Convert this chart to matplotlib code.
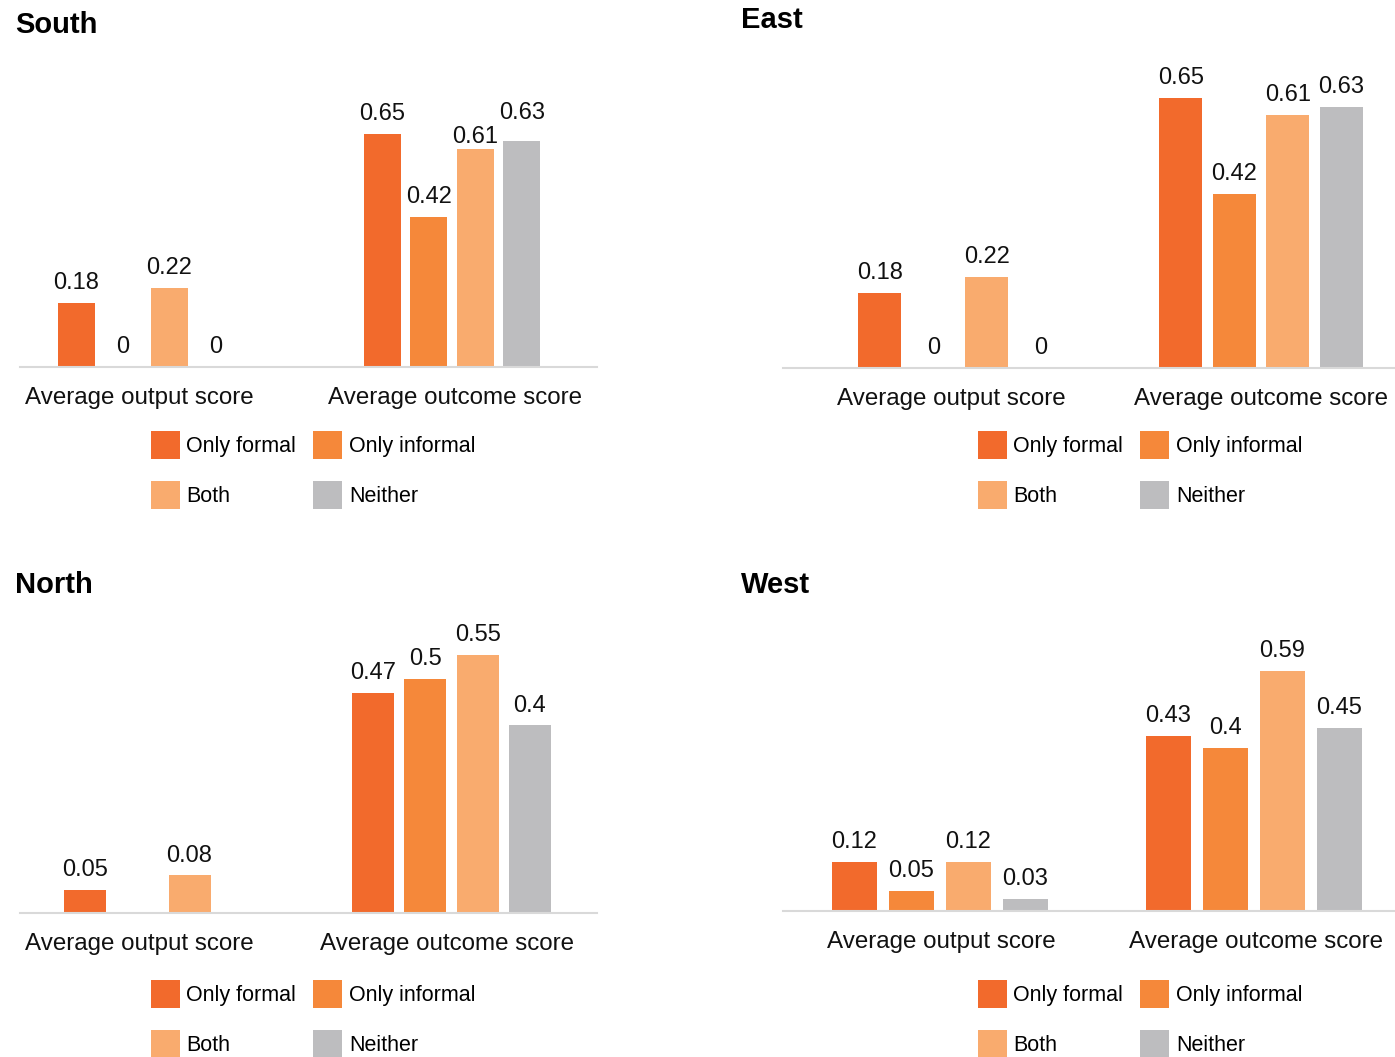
import matplotlib
matplotlib.use('Agg')
import matplotlib.pyplot as plt
from matplotlib.patches import Patch

plt.rcParams['font.family'] = ['Liberation Sans', 'DejaVu Sans']

series = ['Only formal', 'Only informal', 'Both', 'Neither']
colors = ['#F26A2C', '#F5883A', '#F9AB6E', '#BDBDBF']
groups = ['Average output score', 'Average outcome score']

south_output = [0.18, 0, 0.22, 0]
south_outcome = [0.65, 0.42, 0.61, 0.63]
east_output = [0.18, 0, 0.22, 0]
east_outcome = [0.65, 0.42, 0.61, 0.63]
north_output = [0.05, None, 0.08, None]   # no value reported
north_outcome = [0.47, 0.5, 0.55, 0.4]
west_output = [0.12, 0.05, 0.12, 0.03]
west_outcome = [0.43, 0.4, 0.59, 0.45]

W, H = 1395, 1057
fig = plt.figure(figsize=(W / 100, H / 100), dpi=100)

# layout per panel, in pixels: left, right, baseline, top, px per unit,
# group centres, bar step, bar width, tick label x, title pos, legend centre
panels = [
    dict(name='South', data=[south_output, south_outcome],
         left=20, right=597, base=367, top=100, scale=358,
         centers=(146, 452), step=46.5, width=37, labx=(139, 455),
         title=(15, 25), leg=(313, 470),
         nudge={(1, 2): -6, (1, 3): 6}),
    dict(name='East', data=[east_output, east_outcome],
         left=783, right=1395, base=368, top=60, scale=415,
         centers=(960, 1261), step=53.5, width=43, labx=(951, 1261),
         title=(741, 20), leg=(1140, 470), nudge={}),
    dict(name='North', data=[north_output, north_outcome],
         left=20, right=597, base=913, top=615, scale=469,
         centers=(163.4, 451.5), step=52.3, width=42, labx=(139, 447),
         title=(15, 585), leg=(313, 1019), nudge={}),
    dict(name='West', data=[west_output, west_outcome],
         left=783, right=1395, base=911, top=620, scale=407,
         centers=(939.5, 1254), step=57, width=45, labx=(941, 1256),
         title=(741, 585), leg=(1140, 1019), nudge={}),
]

for p in panels:
    ax = fig.add_axes([p['left'] / W, 1 - p['base'] / H,
                       (p['right'] - p['left']) / W, (p['base'] - p['top']) / H])
    c0, c1 = p['centers']
    span = c1 - c0
    ax.set_xlim((p['left'] - c0) / span, (p['right'] - c0) / span)
    ax.set_ylim(0, (p['base'] - p['top']) / p['scale'])
    step = p['step'] / span
    bw = p['width'] / span

    for gi, vals in enumerate(p['data']):
        for si, v in enumerate(vals):
            if v is None:
                continue
            x = gi + (si - 1.5) * step
            ax.bar(x, v, width=bw, color=colors[si], zorder=2)
            dy = 10 + p['nudge'].get((gi, si), 0)
            ax.annotate(f'{v:g}', (x, v), xytext=(0, dy), textcoords='offset points',
                        ha='center', va='baseline', fontsize=17, color='#111111')

    for gi, g in enumerate(groups):
        lx = (p['labx'][gi] - c0) / span
        ax.annotate(g, (lx, 0), xytext=(0, -26.5), textcoords='offset points',
                    ha='center', va='baseline', fontsize=17.4, color='#111111',
                    annotation_clip=False)

    for s in ['top', 'left', 'right']:
        ax.spines[s].set_visible(False)
    ax.spines['bottom'].set_color('#D9D9D9')
    ax.spines['bottom'].set_linewidth(1.5)
    ax.set_xticks([])
    ax.set_yticks([])
    ax.patch.set_alpha(0)

    fig.text(p['title'][0] / W, 1 - p['title'][1] / H, p['name'],
             ha='left', va='center', fontsize=21, fontweight='bold', color='#000000')

    order = [0, 2, 1, 3]
    handles = [Patch(facecolor=colors[i], edgecolor='none') for i in order]
    fig.legend(handles, [series[i] for i in order], ncol=2, frameon=False,
               loc='center', bbox_to_anchor=(p['leg'][0] / W, 1 - p['leg'][1] / H),
               fontsize=15.5, handlelength=1.35, handleheight=1.65,
               handletextpad=0.3, columnspacing=0.8, labelspacing=1.0,
               borderpad=0, borderaxespad=0)

fig.savefig('out.png', dpi=100, facecolor='white')
